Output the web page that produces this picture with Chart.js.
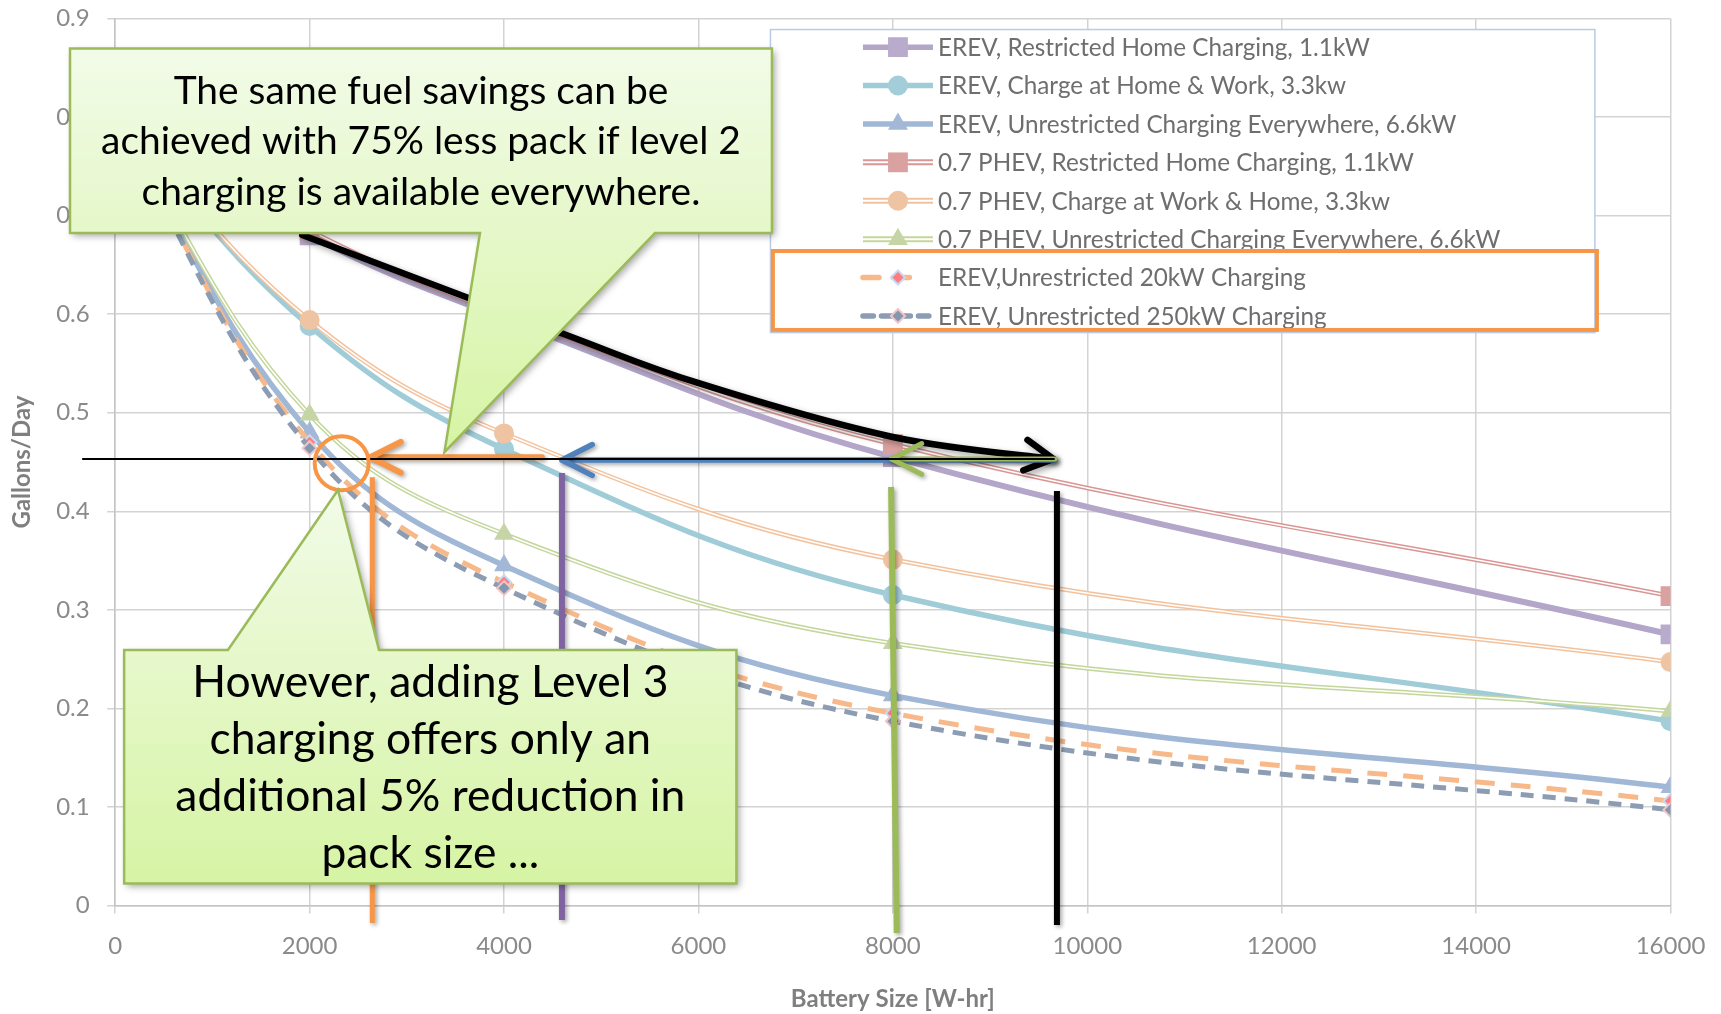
<!DOCTYPE html>
<html>
<head>
<meta charset="utf-8">
<script src="https://cdn.jsdelivr.net/npm/chart.js@4.4.1/dist/chart.umd.min.js"></script>
<style>
  html, body { margin: 0; padding: 0; background: #fff; overflow: hidden; }
  canvas { display: block; }
</style>
</head>
<body>
<canvas id="grafic" width="1721" height="1014"></canvas>
<script>
// 1. Data (battery size in W-hr, fuel use in gallons/day)
const batterySizes = [0, 2000, 4000, 8000, 16000];

const erevHome11 = [0.80, 0.680, 0.596, 0.455, 0.275];
const erevHomeWork33 = [0.80, 0.588, 0.463, 0.315, 0.187];
const erevEverywhere66 = [0.80, 0.480, 0.345, 0.213, 0.120];
const phevHome11 = [0.80, 0.685, 0.600, 0.468, 0.314];
const phevWorkHome33 = [0.80, 0.594, 0.479, 0.351, 0.247];
const phevEverywhere66 = [0.80, 0.498, 0.377, 0.266, 0.197];
const erev20kW = [0.80, 0.470, 0.328, 0.195, 0.106];
const erev250kW = [0.80, 0.464, 0.322, 0.187, 0.097];

const seriesLabels = [
    'EREV, Restricted Home Charging, 1.1kW',
    'EREV, Charge at Home & Work, 3.3kw',
    'EREV, Unrestricted Charging Everywhere, 6.6kW',
    '0.7 PHEV, Restricted Home Charging, 1.1kW',
    '0.7 PHEV, Charge at Work & Home, 3.3kw',
    '0.7 PHEV, Unrestricted Charging Everywhere, 6.6kW',
    'EREV,Unrestricted 20kW Charging',
    'EREV, Unrestricted 250kW Charging'
];

const xTickLabels = ['0', '2000', '4000', '6000', '8000', '10000', '12000', '14000', '16000'];
const yTickLabels = ['0', '0.1', '0.2', '0.3', '0.4', '0.5', '0.6', '0.7', '0.8', '0.9'];

const calloutTopText = [
    'The same fuel savings can be',
    'achieved with 75% less pack if level 2',
    'charging is available everywhere.'
];
const calloutBottomText = [
    'However, adding Level 3',
    'charging offers only an',
    'additional 5% reduction in',
    'pack size ...'
];

// 2. Annotation geometry, given in axis units (W-hr, gallons/day)
const refLine = { x0: -340, x1: 9665, y: 0.4531 };
const orangeArrow = { from: 4390, to: 2625, y: 0.4548 };
const blueArrow = { from: 9665, to: 4596, y: 0.4521 };
const greenArrow = { from: 9665, to: 7985, y: 0.4531 };
const blackCurve = [[1924, 0.6804], [4586, 0.5809], [5995, 0.5302], [7999, 0.4754], [9650, 0.4531]];
const dropLines = [
    { x0: 2645, y0: 0.4345, x1: 2645, y1: -0.0178, color: '#F79646', w: 5 },
    { x0: 4596, y0: 0.4388, x1: 4596, y1: -0.0147, color: '#8064A2', w: 6 },
    { x0: 7982, y0: 0.4247, x1: 8040, y1: -0.0279, color: '#9BBB59', w: 6 },
    { x0: 9688, y0: 0.4206, x1: 9688, y1: -0.0198, color: '#000000', w: 6 }
];
const ring = { x: 2330, y: 0.4487, r: 27 };
const calloutTop = { x0: -465, x1: 6756, y0: 0.8695, y1: 0.6824, tailA: 3753, tailB: 5553, tipX: 3387, tipY: 0.460 };
const calloutBottom = { x0: 92, x1: 6391, y0: 0.2592, y1: 0.0223, tailA: 1160, tailB: 2714, tipX: 2292, tipY: 0.4216 };
const legendBox = { x0: 6741, x1: 15222, y0: 0.8888, y1: 0.5813 };
const legendHighlight = { x0: 6766, x1: 15243, y0: 0.6641, y1: 0.5840 };

const FONT = 'Lato, "Open Sans", "DejaVu Sans", sans-serif';

function toPoints(values) {
    return batterySizes.map((x, i) => ({ x: x, y: values[i] }));
}

// 3. Series styles
const styles = [
    { line: '#B3A6C9', width: 6, marker: 'rect', r: 14, fill: '#B8ABCB', edge: '#B8ABCB' },
    { line: '#A0CCD8', width: 5.5, marker: 'circle', r: 10, fill: '#A3CDD9', edge: '#A3CDD9' },
    { line: '#A0B7D6', width: 5.5, marker: 'triangle', r: 11.5, fill: '#A2B8D6', edge: '#A2B8D6' },
    { line: '#D99694', width: 4.5, double: true, marker: 'rect', r: 14, fill: '#D9A19F', edge: '#D9A19F' },
    { line: '#F3C29C', width: 4.5, double: true, marker: 'circle', r: 10, fill: '#EEC4A2', edge: '#EEC4A2' },
    { line: '#C3D69B', width: 4.5, double: true, marker: 'triangle', r: 11.5, fill: '#C6D5A6', edge: '#C6D5A6' },
    { line: '#F8B98A', width: 5, dash: [20, 16], marker: 'rectRot', r: 7, fill: '#FF7C80', edge: '#C6D9F1' },
    { line: '#8C9CB3', width: 5, dash: [13, 9], marker: 'rectRot', r: 7, fill: '#8497B0', edge: '#F2C6C5' }
];
const seriesValues = [erevHome11, erevHomeWork33, erevEverywhere66, phevHome11, phevWorkHome33, phevEverywhere66, erev20kW, erev250kW];

// 4. Build datasets (PHEV lines are drawn twice to get the double stroke)
let datasets = [];
let drawOrder = 40;
seriesValues.forEach((vals, i) => {
    const s = styles[i];
    const base = {
        label: seriesLabels[i],
        data: toPoints(vals),
        borderColor: s.line,
        borderWidth: s.width,
        borderDash: s.dash || [],
        tension: 0.4,
        pointStyle: s.marker,
        pointRadius: s.r,
        pointBackgroundColor: s.fill,
        pointBorderColor: s.edge,
        pointBorderWidth: s.marker === 'rectRot' ? 2 : 0,
        order: drawOrder--
    };
    if (s.double) {
        datasets.push(Object.assign({}, base, { pointRadius: 0 }));
        datasets.push(Object.assign({}, base, { borderColor: '#ffffff', borderWidth: 1.5, order: drawOrder-- }));
    } else {
        datasets.push(base);
    }
});

// 5. Drawing helpers for the overlay shapes
function chevron(ctx, tx, ty, angle, len, spread) {
    ctx.beginPath();
    ctx.moveTo(tx + len * Math.cos(angle + Math.PI - spread), ty + len * Math.sin(angle + Math.PI - spread));
    ctx.lineTo(tx, ty);
    ctx.lineTo(tx + len * Math.cos(angle + Math.PI + spread), ty + len * Math.sin(angle + Math.PI + spread));
    ctx.stroke();
}

function shadowOn(ctx, blur, off) {
    ctx.shadowColor = 'rgba(0,0,0,0.35)';
    ctx.shadowBlur = blur;
    ctx.shadowOffsetX = off;
    ctx.shadowOffsetY = off;
}

function fitFont(ctx, text, target) {
    ctx.font = '40px ' + FONT;
    return 40 * target / ctx.measureText(text).width;
}

function drawCallout(ctx, X, Y, c, tailAtTop) {
    const L = X(c.x0), R = X(c.x1), T = Y(c.y0), B = Y(c.y1);
    const a = X(c.tailA), b = X(c.tailB), tx = X(c.tipX), ty = Y(c.tipY);
    ctx.save();
    ctx.beginPath();
    if (tailAtTop) {
        ctx.moveTo(L, T); ctx.lineTo(a, T); ctx.lineTo(tx, ty); ctx.lineTo(b, T);
        ctx.lineTo(R, T); ctx.lineTo(R, B); ctx.lineTo(L, B);
    } else {
        ctx.moveTo(L, T); ctx.lineTo(R, T); ctx.lineTo(R, B); ctx.lineTo(b, B);
        ctx.lineTo(tx, ty); ctx.lineTo(a, B); ctx.lineTo(L, B);
    }
    ctx.closePath();
    const g = ctx.createLinearGradient(0, Math.min(T, ty), 0, Math.max(B, ty));
    g.addColorStop(0, '#F2FBE8');
    g.addColorStop(1, '#D6F4A4');
    ctx.fillStyle = g;
    shadowOn(ctx, 7, 3);
    ctx.fill();
    ctx.shadowColor = 'transparent';
    ctx.strokeStyle = '#9BBB59';
    ctx.lineWidth = 2.5;
    ctx.stroke();
    ctx.restore();
    return { L, R, T, B };
}

function drawText(ctx, lines, cx, cy, size, gap) {
    ctx.save();
    ctx.fillStyle = '#000';
    ctx.font = size + 'px ' + FONT;
    ctx.textAlign = 'center';
    ctx.textBaseline = 'middle';
    const start = cy - gap * (lines.length - 1) / 2;
    lines.forEach((t, i) => ctx.fillText(t, cx, start + i * gap));
    ctx.restore();
}

function legendSample(ctx, s, x0, x1, y) {
    ctx.save();
    ctx.lineCap = s.dash ? 'round' : 'butt';
    ctx.beginPath();
    ctx.moveTo(x0, y); ctx.lineTo(x1, y);
    ctx.strokeStyle = s.line;
    ctx.lineWidth = s.double ? 6 : 5.5;
    ctx.setLineDash(s.dash ? [s.dash[0] * 0.8, s.dash[1] * 0.9] : []);
    ctx.stroke();
    if (s.double) {
        ctx.strokeStyle = '#ffffff';
        ctx.lineWidth = 2;
        ctx.stroke();
    }
    ctx.restore();
}

// 6. Overlay plugin: legend, arrows, guide lines and the two callouts
const overlayPlugin = {
    id: 'overlay',
    afterDatasetsDraw(chart) {
        const ctx = chart.ctx;
        const X = v => chart.scales.x.getPixelForValue(v);
        const Y = v => chart.scales.y.getPixelForValue(v);

        // legend box
        const lx0 = X(legendBox.x0), lx1 = X(legendBox.x1), ly0 = Y(legendBox.y0), ly1 = Y(legendBox.y1);
        ctx.save();
        ctx.fillStyle = '#fff';
        ctx.fillRect(lx0, ly0, lx1 - lx0, ly1 - ly0);
        ctx.strokeStyle = '#B9CCE4';
        ctx.lineWidth = 1.5;
        ctx.strokeRect(lx0, ly0, lx1 - lx0, ly1 - ly0);
        const legendSize = fitFont(ctx, seriesLabels[5], 563);
        ctx.textBaseline = 'middle';
        seriesLabels.forEach((label, i) => {
            const s = styles[i];
            const y = ly0 + 17.6 + i * 38.4;
            const sx1 = s.dash && i === 6 ? lx0 + 147 : lx0 + 162.5;
            legendSample(ctx, s, lx0 + 92.5, sx1, y);
            ctx.fillStyle = s.fill;
            ctx.strokeStyle = s.edge;
            ctx.lineWidth = 2;
            Chart.helpers.drawPoint(ctx, {
                pointStyle: s.marker, radius: s.r, borderWidth: s.marker === 'rectRot' ? 2 : 0
            }, lx0 + 127.5, y);
            ctx.font = legendSize + 'px ' + FONT;
            ctx.fillStyle = '#6E6E6E';
            ctx.fillText(label, lx0 + 167.5, y + 1);
        });
        const hx0 = X(legendHighlight.x0), hx1 = X(legendHighlight.x1), hy0 = Y(legendHighlight.y0), hy1 = Y(legendHighlight.y1);
        ctx.strokeStyle = '#F79646';
        ctx.lineWidth = 4;
        ctx.strokeRect(hx0, hy0, hx1 - hx0, hy1 - hy0);
        ctx.restore();

        // vertical drop lines
        ctx.save();
        shadowOn(ctx, 4, 2);
        dropLines.forEach(d => {
            ctx.beginPath();
            ctx.moveTo(X(d.x0), Y(d.y0));
            ctx.lineTo(X(d.x1), Y(d.y1));
            ctx.strokeStyle = d.color;
            ctx.lineWidth = d.w;
            ctx.stroke();
        });
        ctx.restore();

        // curved black arrow
        ctx.save();
        shadowOn(ctx, 6, 3);
        const pts = blackCurve.map(p => [X(p[0]), Y(p[1])]);
        ctx.beginPath();
        ctx.moveTo(pts[0][0], pts[0][1]);
        for (let i = 0; i < pts.length - 1; i++) {
            const p0 = pts[i - 1] || pts[i], p1 = pts[i], p2 = pts[i + 1], p3 = pts[i + 2] || p2;
            ctx.bezierCurveTo(p1[0] + (p2[0] - p0[0]) / 6, p1[1] + (p2[1] - p0[1]) / 6,
                p2[0] - (p3[0] - p1[0]) / 6, p2[1] - (p3[1] - p1[1]) / 6, p2[0], p2[1]);
        }
        ctx.strokeStyle = '#000';
        ctx.lineWidth = 6.5;
        ctx.lineCap = 'round';
        ctx.lineJoin = 'round';
        ctx.stroke();
        const n = pts.length;
        const ang = Math.atan2(pts[n - 1][1] - pts[n - 2][1], pts[n - 1][0] - pts[n - 2][0]);
        chevron(ctx, pts[n - 1][0], pts[n - 1][1], ang, 32, 0.5);
        ctx.restore();

        // horizontal arrows
        ctx.save();
        shadowOn(ctx, 4, 2);
        ctx.lineCap = 'round';
        ctx.lineJoin = 'round';
        [[blueArrow, '#4F81BD', 5.5], [greenArrow, '#9BBB59', 5], [orangeArrow, '#F79646', 6]].forEach(a => {
            const [ar, col, w] = a;
            ctx.strokeStyle = col;
            ctx.lineWidth = w;
            ctx.beginPath();
            ctx.moveTo(X(ar.from), Y(ar.y));
            ctx.lineTo(X(ar.to), Y(ar.y));
            ctx.stroke();
            chevron(ctx, X(ar.to), Y(ar.y), Math.PI, 34, 0.47);
        });
        ctx.restore();

        // thin black reference line
        ctx.save();
        ctx.strokeStyle = '#000';
        ctx.lineWidth = 2;
        ctx.beginPath();
        ctx.moveTo(X(refLine.x0), Y(refLine.y));
        ctx.lineTo(X(refLine.x1), Y(refLine.y));
        ctx.stroke();

        // orange ring
        ctx.strokeStyle = '#F79646';
        ctx.lineWidth = 4;
        ctx.beginPath();
        ctx.arc(X(ring.x), Y(ring.y), ring.r, 0, Math.PI * 2);
        ctx.stroke();
        ctx.restore();

        // callouts
        const c1 = drawCallout(ctx, X, Y, calloutTop, false);
        drawText(ctx, calloutTopText, (c1.L + c1.R) / 2, (c1.T + c1.B) / 2 + 1, fitFont(ctx, calloutTopText[1], 640), 50.5);
        const c2 = drawCallout(ctx, X, Y, calloutBottom, true);
        drawText(ctx, calloutBottomText, (c2.L + c2.R) / 2, (c2.T + c2.B) / 2 + 1, fitFont(ctx, calloutBottomText[2], 510), 57);
    }
};

// 7. Chart
const ctxGrafic = document.getElementById('grafic').getContext('2d');
const grafic = new Chart(ctxGrafic, {
    type: 'line',
    data: { datasets: datasets },
    plugins: [overlayPlugin],
    options: {
        responsive: false,
        animation: false,
        devicePixelRatio: 1,
        layout: { padding: { top: 18.5, right: 50.5, left: 0, bottom: 0 } },
        plugins: { legend: { display: false }, tooltip: { enabled: false } },
        scales: {
            x: {
                type: 'linear',
                min: 0, max: 16000,
                afterFit: s => { s.height = 108.5; s.paddingLeft = 0; s.paddingRight = 0; },
                ticks: {
                    stepSize: 2000,
                    color: '#8A8A8A',
                    padding: 18,
                    font: { family: FONT, size: 24 },
                    callback: (v, i) => xTickLabels[i]
                },
                grid: { color: '#D3D3D3', lineWidth: 1.5, tickLength: 8 },
                border: { color: '#C4C4C4', width: 1.5 },
                title: {
                    display: true,
                    text: 'Battery Size [W-hr]',
                    color: '#7F7F7F',
                    font: { family: FONT, size: 24, weight: 'bold' },
                    padding: { top: 0, bottom: 0 }
                }
            },
            y: {
                min: 0, max: 0.9,
                afterFit: s => { s.width = 115.2; s.paddingTop = 0; s.paddingBottom = 0; },
                ticks: {
                    stepSize: 0.1,
                    color: '#8A8A8A',
                    padding: 17.5,
                    font: { family: FONT, size: 24 },
                    callback: (v, i) => yTickLabels[i]
                },
                grid: { color: '#D3D3D3', lineWidth: 1.5, tickLength: 8 },
                border: { color: '#C4C4C4', width: 1.5 },
                title: {
                    display: true,
                    text: 'Gallons/Day',
                    color: '#7F7F7F',
                    font: { family: FONT, size: 24, weight: 'bold' },
                    padding: { top: 7.6, bottom: 7.6 }
                }
            }
        }
    }
});
</script>
</body>
</html>
